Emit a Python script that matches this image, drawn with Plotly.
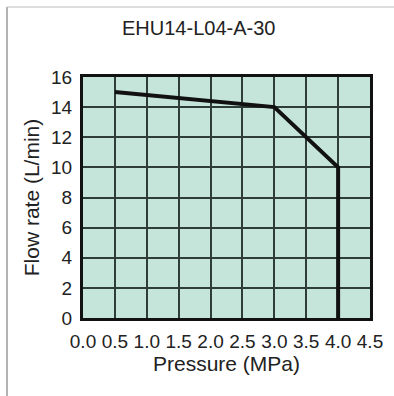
import plotly.graph_objects as go

pressure = [0.5, 3.0, 4.0, 4.0]
flow = [15.0, 14.0, 10.0, 0.0]
x_ticks = [0.0, 0.5, 1.0, 1.5, 2.0, 2.5, 3.0, 3.5, 4.0, 4.5]
y_ticks = [0, 2, 4, 6, 8, 10, 12, 14, 16]
title = "EHU14-L04-A-30"

W, H = 394, 396
L, R, T, B = 83, 24, 77, 78
pw, ph = W - L - R, H - T - B

fig = go.Figure()
fig.add_trace(go.Scatter(x=pressure, y=flow, mode="lines",
                         line=dict(color="#111111", width=4), showlegend=False))

font = dict(family="Liberation Sans, Arial, sans-serif", size=16, color="#222222")
fig.update_layout(
    width=W, height=H, margin=dict(l=L, r=R, t=T, b=B),
    paper_bgcolor="white", plot_bgcolor="#c6e5da",
    font=font,
    xaxis=dict(range=[0, 4.5], tickvals=x_ticks, ticktext=[f"{v:.1f}" for v in x_ticks],
               showgrid=True, gridcolor="#2f3d38", gridwidth=1.5, zeroline=False,
               showline=True, linecolor="#111111", linewidth=3, mirror=True,
               ticks="", ticklen=0, tickfont=dict(size=19), ticklabelstandoff=4,
               title=dict(text="Pressure (MPa)", font=dict(size=21), standoff=4)),
    yaxis=dict(range=[0, 16], tickvals=y_ticks,
               showgrid=True, gridcolor="#2f3d38", gridwidth=1.5, zeroline=False,
               showline=True, linecolor="#111111", linewidth=3, mirror=True,
               ticks="", ticklen=0, tickfont=dict(size=19), ticklabelstandoff=4,
               title=dict(text="Flow rate (L/min)", font=dict(size=21), standoff=6)),
    annotations=[dict(text=title, x=(198 - L) / pw, y=(H - B - 28) / ph,
                      xref="paper", yref="paper", showarrow=False,
                      xanchor="center", yanchor="middle", font=dict(size=20, color="#222222"))],
    shapes=[
        dict(type="line", xref="paper", yref="paper",
             x0=(7 - L) / pw, x1=(7 - L) / pw, y0=(H - B - 7) / ph, y1=(H - B - 396) / ph,
             line=dict(color="#9a9a9a", width=1.5)),
        dict(type="line", xref="paper", yref="paper",
             x0=(7 - L) / pw, x1=(394 - L) / pw, y0=(H - B - 7) / ph, y1=(H - B - 7) / ph,
             line=dict(color="#bbbbbb", width=1)),
    ],
)
fig.write_html("out.html")
